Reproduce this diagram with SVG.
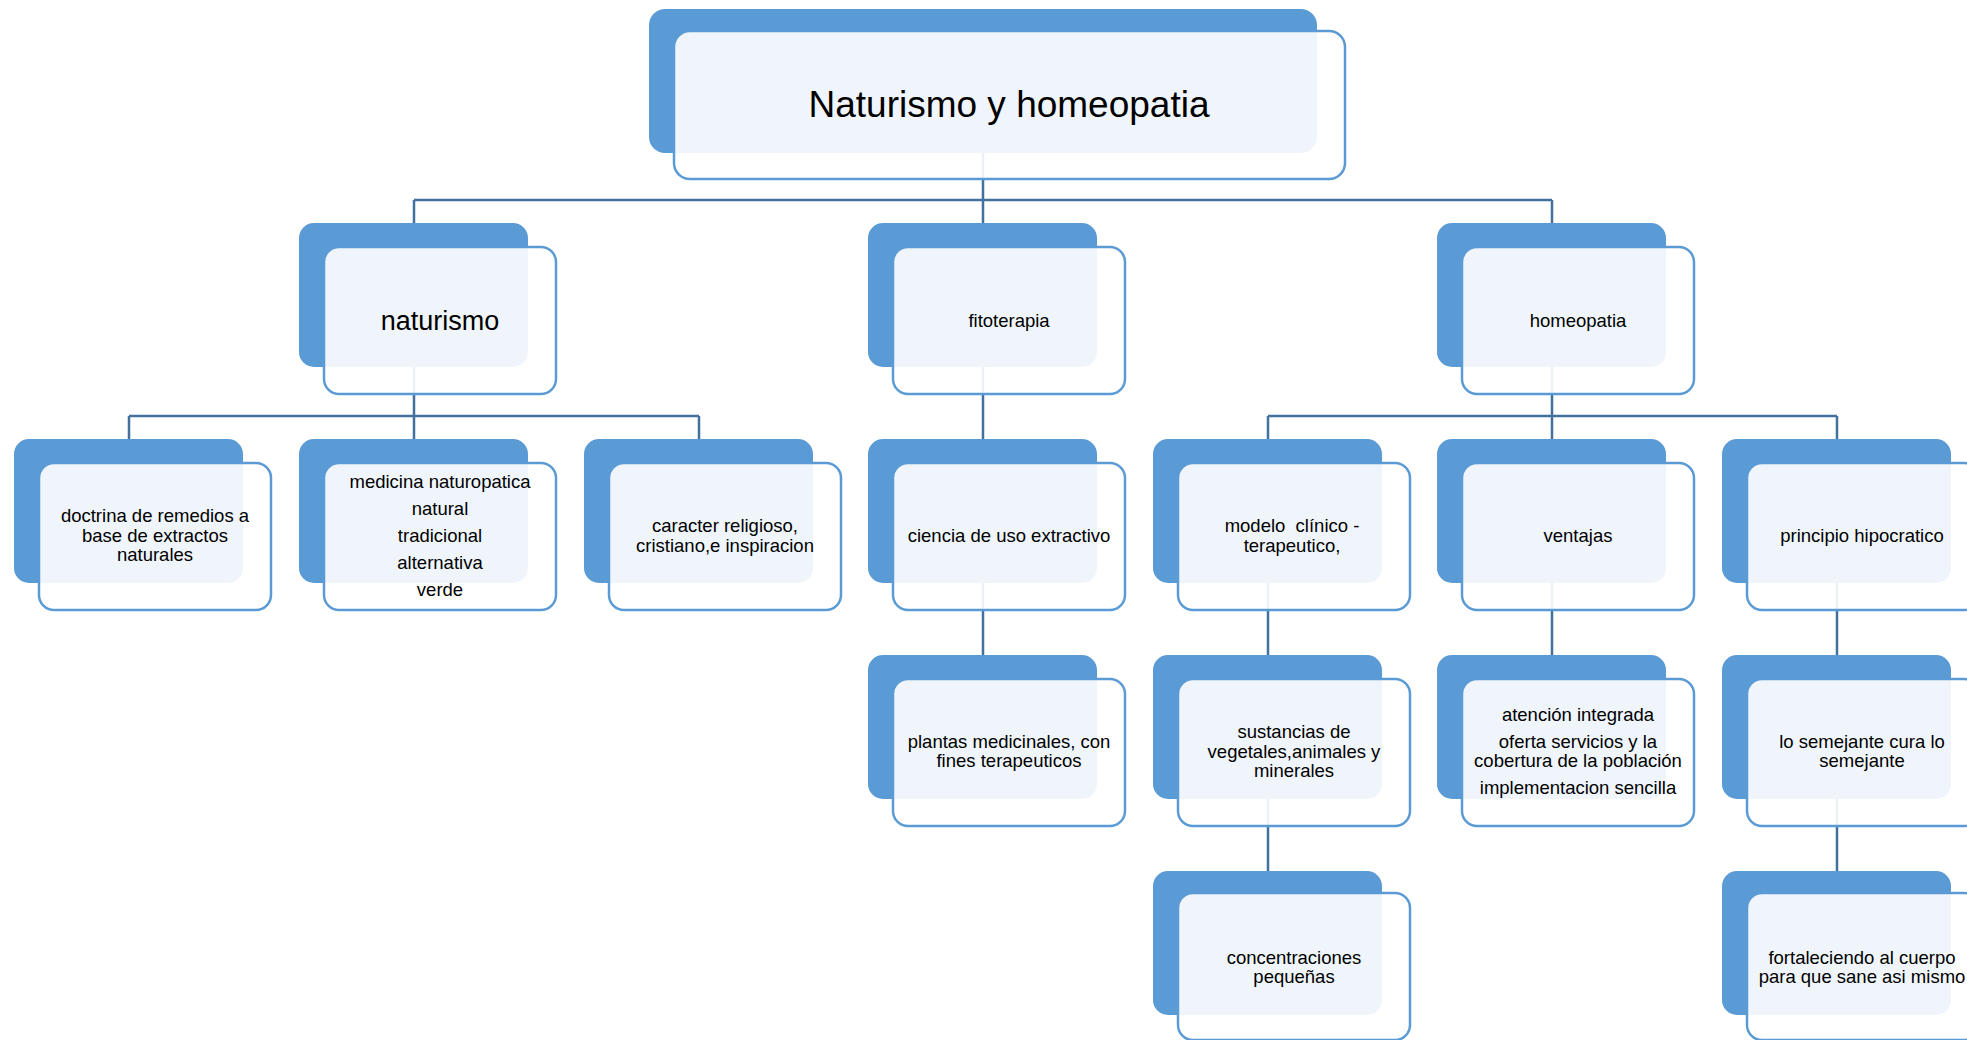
<svg xmlns="http://www.w3.org/2000/svg" width="1967" height="1040" viewBox="0 0 1967 1040">
<style>
.bg{fill:#ffffff}
.dk{fill:#5B9BD5}
.lt{fill:#ffffff;fill-opacity:0.9;stroke:#5B9BD5;stroke-width:2.5}
.cn{fill:none;stroke:#41719C;stroke-width:2.5}
text{font-family:"Liberation Sans",Arial,sans-serif;fill:#000;text-anchor:middle}
.t0{font-size:37px}
.t1{font-size:27px}
.t2{font-size:18.5px}
</style>
<rect class="bg" x="0" y="0" width="1967" height="1040"/>
<g id="connectors">
<path class="cn" d="M983 153V200M414 200H1552M414 200V223M983 200V223M1552 200V223"/>
<path class="cn" d="M414 367V416M129 416H699M129 416V439M414 416V439M699 416V439"/>
<path class="cn" d="M983 367V439"/>
<path class="cn" d="M1552 367V416M1268 416H1837M1268 416V439M1552 416V439M1837 416V439"/>
<path class="cn" d="M983 583V655M1268 583V655M1552 583V655M1837 583V655"/>
<path class="cn" d="M1268 799V871M1837 799V871"/>
</g>
<g id="root">
<rect class="dk" x="649" y="9" width="668" height="144" rx="16"/>
<rect class="lt" x="674" y="31" width="671" height="148" rx="16"/>
<text class="t0" x="1009" y="117">Naturismo y homeopatia</text>
</g>
<g id="naturismo">
<rect class="dk" x="299" y="223" width="229" height="144" rx="15"/>
<rect class="lt" x="324" y="247" width="232" height="147" rx="15"/>
<text class="t1" x="440" y="330">naturismo</text>
</g>
<g id="fitoterapia">
<rect class="dk" x="868" y="223" width="229" height="144" rx="15"/>
<rect class="lt" x="893" y="247" width="232" height="147" rx="15"/>
<text class="t2" x="1009" y="327">fitoterapia</text>
</g>
<g id="homeopatia">
<rect class="dk" x="1437" y="223" width="229" height="144" rx="15"/>
<rect class="lt" x="1462" y="247" width="232" height="147" rx="15"/>
<text class="t2" x="1578" y="327">homeopatia</text>
</g>
<g id="doctrina">
<rect class="dk" x="14" y="439" width="229" height="144" rx="15"/>
<rect class="lt" x="39" y="463" width="232" height="147" rx="15"/>
<text class="t2" x="155" y="522">doctrina de remedios a</text>
<text class="t2" x="155" y="542">base de extractos</text>
<text class="t2" x="155" y="561">naturales</text>
</g>
<g id="medicina">
<rect class="dk" x="299" y="439" width="229" height="144" rx="15"/>
<rect class="lt" x="324" y="463" width="232" height="147" rx="15"/>
<text class="t2" x="440" y="488">medicina naturopatica</text>
<text class="t2" x="440" y="515">natural</text>
<text class="t2" x="440" y="542">tradicional</text>
<text class="t2" x="440" y="569">alternativa</text>
<text class="t2" x="440" y="596">verde</text>
</g>
<g id="caracter">
<rect class="dk" x="584" y="439" width="229" height="144" rx="15"/>
<rect class="lt" x="609" y="463" width="232" height="147" rx="15"/>
<text class="t2" x="725" y="532">caracter religioso,</text>
<text class="t2" x="725" y="552">cristiano,e inspiracion</text>
</g>
<g id="ciencia">
<rect class="dk" x="868" y="439" width="229" height="144" rx="15"/>
<rect class="lt" x="893" y="463" width="232" height="147" rx="15"/>
<text class="t2" x="1009" y="542">ciencia de uso extractivo</text>
</g>
<g id="modelo">
<rect class="dk" x="1153" y="439" width="229" height="144" rx="15"/>
<rect class="lt" x="1178" y="463" width="232" height="147" rx="15"/>
<text class="t2" x="1292" y="532" xml:space="preserve">modelo  clínico -</text>
<text class="t2" x="1292" y="552">terapeutico,</text>
</g>
<g id="ventajas">
<rect class="dk" x="1437" y="439" width="229" height="144" rx="15"/>
<rect class="lt" x="1462" y="463" width="232" height="147" rx="15"/>
<text class="t2" x="1578" y="542">ventajas</text>
</g>
<g id="principio">
<rect class="dk" x="1722" y="439" width="229" height="144" rx="15"/>
<rect class="lt" x="1747" y="463" width="232" height="147" rx="15"/>
<text class="t2" x="1862" y="542">principio hipocratico</text>
</g>
<g id="plantas">
<rect class="dk" x="868" y="655" width="229" height="144" rx="15"/>
<rect class="lt" x="893" y="679" width="232" height="147" rx="15"/>
<text class="t2" x="1009" y="748">plantas medicinales, con</text>
<text class="t2" x="1009" y="767">fines terapeuticos</text>
</g>
<g id="sustancias">
<rect class="dk" x="1153" y="655" width="229" height="144" rx="15"/>
<rect class="lt" x="1178" y="679" width="232" height="147" rx="15"/>
<text class="t2" x="1294" y="738">sustancias de</text>
<text class="t2" x="1294" y="758">vegetales,animales y</text>
<text class="t2" x="1294" y="777">minerales</text>
</g>
<g id="atencion">
<rect class="dk" x="1437" y="655" width="229" height="144" rx="15"/>
<rect class="lt" x="1462" y="679" width="232" height="147" rx="15"/>
<text class="t2" x="1578" y="721">atención integrada</text>
<text class="t2" x="1578" y="748">oferta servicios y la</text>
<text class="t2" x="1578" y="767">cobertura de la población</text>
<text class="t2" x="1578" y="794">implementacion sencilla</text>
</g>
<g id="semejante">
<rect class="dk" x="1722" y="655" width="229" height="144" rx="15"/>
<rect class="lt" x="1747" y="679" width="232" height="147" rx="15"/>
<text class="t2" x="1862" y="748">lo semejante cura lo</text>
<text class="t2" x="1862" y="767">semejante</text>
</g>
<g id="concentraciones">
<rect class="dk" x="1153" y="871" width="229" height="144" rx="15"/>
<rect class="lt" x="1178" y="893" width="232" height="147" rx="15"/>
<text class="t2" x="1294" y="964">concentraciones</text>
<text class="t2" x="1294" y="983">pequeñas</text>
</g>
<g id="fortaleciendo">
<rect class="dk" x="1722" y="871" width="229" height="144" rx="15"/>
<rect class="lt" x="1747" y="893" width="232" height="147" rx="15"/>
<text class="t2" x="1862" y="964">fortaleciendo al cuerpo</text>
<text class="t2" x="1862" y="983">para que sane asi mismo</text>
</g>
</svg>
